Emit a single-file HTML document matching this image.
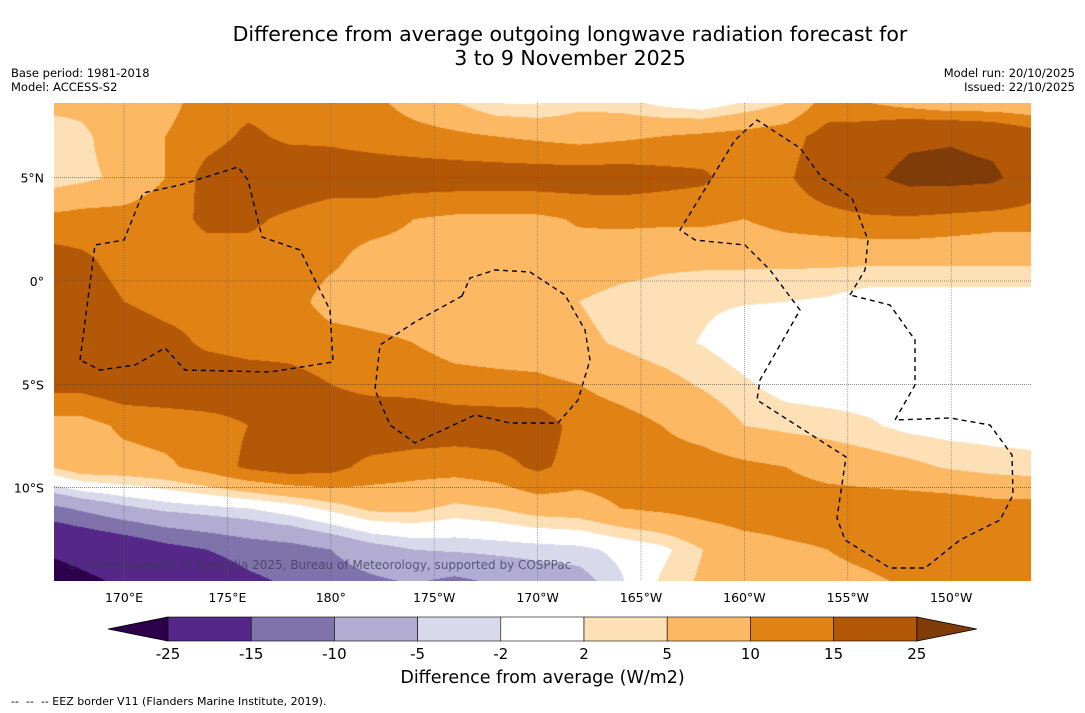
<!DOCTYPE html>
<html><head><meta charset="utf-8"><style>
body{margin:0;background:#fff;width:1085px;height:713px;overflow:hidden;font-family:"DejaVu Sans","Liberation Sans",sans-serif;position:relative}
.t{position:absolute;white-space:nowrap;color:#000}
</style></head><body>
<div class="t" style="left:0;width:1140px;text-align:center;top:22px;font-size:20.5px;line-height:24px">Difference from average outgoing longwave radiation forecast for<br>3 to 9 November 2025</div>
<div class="t" style="left:11px;top:66px;font-size:11.5px;line-height:14px">Base period: 1981-2018<br>Model: ACCESS-S2</div>
<div class="t" style="right:10px;top:66px;font-size:11.5px;line-height:14px;text-align:right">Model run: 20/10/2025<br>Issued: 22/10/2025</div>
<canvas id="map" width="977" height="478" style="position:absolute;left:54px;top:103px"></canvas>
<svg id="ov" width="1085" height="713" style="position:absolute;left:0;top:0"></svg>
<div class="t" style="left:66px;top:558px;font-size:12px;color:rgba(60,60,90,0.75)">© Commonwealth of Australia 2025, Bureau of Meteorology, supported by COSPPac</div>
<div class="t" style="left:0;width:1085px;text-align:center;top:668px;font-size:17.5px">Difference from average (W/m2)</div>
<div class="t" style="left:11px;top:695px;font-size:11px">--&nbsp; --&nbsp; -- EEZ border V11 (Flanders Marine Institute, 2019).</div>
<script>
const lons=[166,168,170,172,174,176,178,180,182,184,186,188,190,192,194,196,198,200,202,204,206,208,210,212,214];
const lats=[9,7,5,3,1,-1,-3,-5,-7,-9,-11,-13,-15];
const r9=[8,7,10,8,12,13,13,13,11,7,4,0,0,3,2,-1,-3,0,3,11,8,4,1,2,2];
const r7=[1.5,4,8,10,13,16,14,14,13,12,11,10,9,8,9,10,11,12,13,17,19,23,24,22,18];
const r5=[2.5,4,6,10,17,19,19,18,18,18,18,18,18,18,18,17,16,12,14,19,23,28,28,27,19];
const r3=[11,12,12,13,16,16,14,12,12,10,9,9,9,10.5,11,11,11,10,12,13,14,14,13,12,12];
const r1=[18,16,13,13,13,13,13,11,8,8,8,8,8,8,7,6,5.8,5.8,5.8,5.8,5.8,5.8,5.8,5.8,5.8];
const rm1=[19,18,15,13,13,13,12,8,7.5,7.5,7.5,7.5,7.5,5,3.5,3,2.5,2.2,2,1.5,0,0,0,0,0];
const rm3=[20,20,19,17,14,13,13,12,11,10,8,7.5,7.5,6,4.5,3,1.8,0,0,0,0,0,0,0,0];
const rm5=[17,17,19,19,19,18,17,15,13,13,12,11.5,11,10,8,6.5,4.5,2.5,0.5,0,0,0,0,0,0];
const rm7=[8,8,11,12,13,15,17,19,20,19,18,18,18,13,12,10,8,5,4,3.5,2.5,1,0.5,0.5,0.5];
const rm9=[4,8,8,9,12,16,18,17,13,12,12,13,16,13,13,12,12,11,10,8,7,6,4.5,3.5,3];
const rm11=[-12,-9,-6,-4,-3,-2,0,3,6,6,4,5,7,7.5,10,11,12,13,13,13,13,13,13,12,12];
const rm13=[-24,-22,-20,-17,-15,-13,-12,-10,-7,-5,-4.5,-4,-3.5,-3,-1,1,5,7.5,9,10,11,12,12.5,13,13];
const rm15=[-32,-28,-25,-22,-20,-17,-15,-13,-12,-11,-13,-11,-9,-8,-3,3,6,7.5,8,8.5,9,10,11,12,13];
const grid=[r9,r7,r5,r3,r1,rm1,rm3,rm5,rm7,rm9,rm11,rm13,rm15];
const levels=[-25,-15,-10,-5,-2,2,5,10,15,25];
const levelLabels=["-25","-15","-10","-5","-2","2","5","10","15","25"];
const colors=["#2d004b","#542788","#8073ac","#b2abd2","#d8daeb","#ffffff","#fee0b6","#fdb863","#e08214","#b35806","#7f3b08"];
const lonTicks=[170,175,180,185,190,195,200,205,210];
const lonTickLabels=["170°E","175°E","180°","175°W","170°W","165°W","160°W","155°W","150°W"];
const latTicks=[5,0,-5,-10];
const latTickLabels=["5°N","0°","5°S","10°S"];
const X=lon=>124+(lon-170)*20.68;
const Y=lat=>281-lat*20.66;
const Xi=x=>170+(x-124)/20.68;
const Yi=y=>(281-y)/20.66;
function rgb(h){return [parseInt(h.substr(1,2),16),parseInt(h.substr(3,2),16),parseInt(h.substr(5,2),16)];}
const crgb=colors.map(rgb);
function band(v){let i=0;while(i<levels.length&&v>=levels[i])i++;return i;}
const cv=document.getElementById('map'),ctx=cv.getContext('2d');
const W=cv.width,H=cv.height,img=ctx.createImageData(W,H);
for(let py=0;py<H;py++){
  const lat=Yi(103+py+0.5);
  let fj=(lats[0]-lat)/2;fj=Math.max(0,Math.min(lats.length-1.001,fj));
  const j=Math.floor(fj),ty=fj-j;
  for(let px=0;px<W;px++){
    const lon=Xi(54+px+0.5);
    let fi=(lon-lons[0])/2;fi=Math.max(0,Math.min(lons.length-1.001,fi));
    const i=Math.floor(fi),tx=fi-i;
    const v=(grid[j][i]*(1-tx)+grid[j][i+1]*tx)*(1-ty)+(grid[j+1][i]*(1-tx)+grid[j+1][i+1]*tx)*ty;
    const c=crgb[band(v)],k=(py*W+px)*4;
    img.data[k]=c[0];img.data[k+1]=c[1];img.data[k+2]=c[2];img.data[k+3]=255;
  }
}
ctx.putImageData(img,0,0);
const NS='http://www.w3.org/2000/svg',ov=document.getElementById('ov');
function mk(tag,at,parent){const e=document.createElementNS(NS,tag);for(const k in at)e.setAttribute(k,at[k]);(parent||ov).appendChild(e);return e;}
const FF='DejaVu Sans, Liberation Sans, sans-serif';
lonTicks.forEach((l,i)=>{
  const x=X(l);
  const g=mk('line',{x1:x,x2:x,y1:103,y2:581,stroke:'#555','stroke-width':0.6,'stroke-dasharray':'1 1','stroke-opacity':0.8});
  
  
  const t=mk('text',{x:x,y:602,'text-anchor':'middle','font-size':12.5,'font-family':FF});
  t.textContent=lonTickLabels[i];
  
  
});
latTicks.forEach((l,i)=>{
  const y=Y(l);
  const g=mk('line',{x1:54,x2:1031,y1:y,y2:y,stroke:'#444','stroke-width':0.6,'stroke-dasharray':'1 1'});
  
  
  const t=mk('text',{x:44,y:y+5,'text-anchor':'end','font-size':12.5,'font-family':FF});
  t.textContent=latTickLabels[i];
  
  
});
const eez=[
 "M80,360 L95,245 L124,240 L143,193 L180,185 L238,167 L248,180 L262,237 L300,250 L330,310 L333,362 L270,372 L185,370 L165,348 L135,365 L100,370 Z",
 "M462,296 L470,278 L495,270 L530,272 L565,295 L585,330 L590,360 L578,400 L558,423 L510,423 L475,415 L415,443 L390,425 L375,390 L380,345 L415,322 Z",
 "M850,295 L865,270 L868,240 L852,198 L822,178 L800,148 L757,120 L735,140 L680,230 L695,240 L745,245 L770,270 L800,310 L780,345 L760,380 L757,400 L846,457 L837,518 L845,540 L890,568 L925,568 L960,540 L1000,520 L1013,495 L1012,455 L990,425 L950,418 L895,420 L915,385 L915,340 L890,305 Z"];
eez.forEach(d=>{
  const p=mk('path',{d:d,fill:'none',stroke:'#000','stroke-width':1.4,'stroke-dasharray':'5 4'});
  
  
});
const cbL=168,cbW=83.2,cbY=617,cbH=24;
const lt=mk('polygon',{points:`108,${cbY+cbH/2} ${cbL},${cbY} ${cbL},${cbY+cbH}`,fill:colors[0],stroke:'#000','stroke-width':0.8});


for(let i=0;i<levels.length-1;i++){
  const r=mk('rect',{x:cbL+i*cbW,y:cbY,width:cbW,height:cbH,fill:colors[i+1],stroke:'#000','stroke-width':0.6});
  
  
}
const rEnd=cbL+(levels.length-1)*cbW;
const rt=mk('polygon',{points:`${rEnd},${cbY} ${rEnd+60},${cbY+cbH/2} ${rEnd},${cbY+cbH}`,fill:colors[colors.length-1],stroke:'#000','stroke-width':0.8});


levelLabels.forEach((s,i)=>{
  const t=mk('text',{x:cbL+i*cbW,y:659,'text-anchor':'middle','font-size':15,'font-family':FF});
  t.textContent=s;
  
  
});
</script>
</body></html>
